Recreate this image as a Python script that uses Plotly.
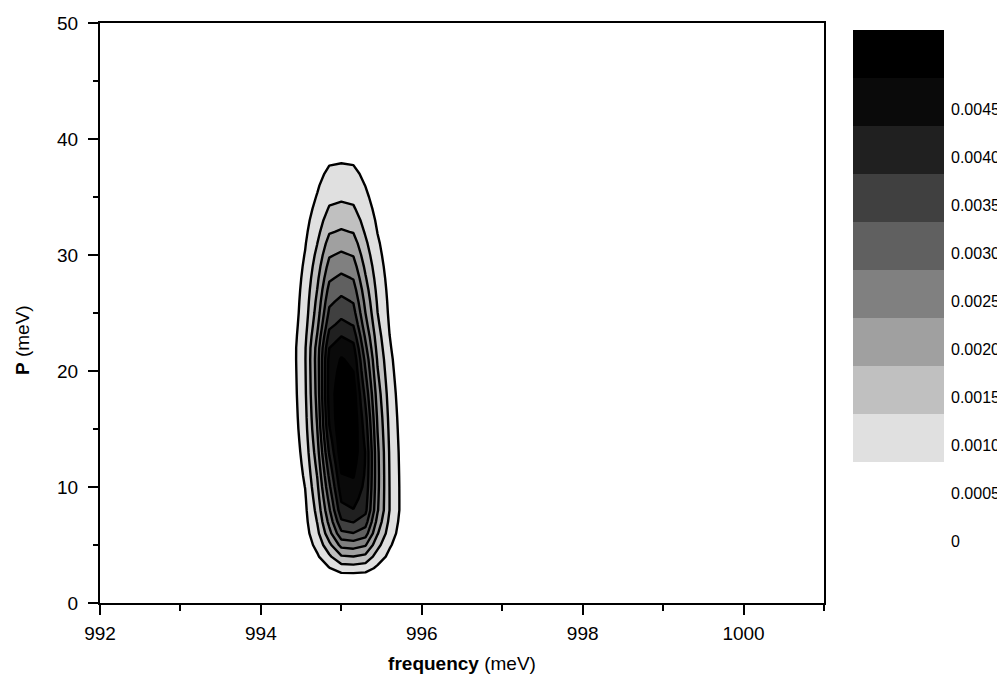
import numpy as np
import plotly.graph_objects as go

# ---- data ----
# ridge (maximum along each row) of the spectral weight vs P
ridge_p = [0.0, 1.8, 2.6, 3.3, 4.0, 4.7, 5.3, 6.0, 6.9, 8.0, 10.4, 13.0, 15.5, 18.0,
           21.5, 23.0, 24.4, 26.5, 28.4, 30.3, 32.2, 34.5, 37.9, 40.0, 43.0, 50.0]
ridge_val = [0.0, 0.0, 0.0005, 0.0010, 0.0015, 0.0020, 0.0025, 0.0030, 0.0035, 0.0040,
             0.0045, 0.00485, 0.0050, 0.0049, 0.0045, 0.0040, 0.0035, 0.0030, 0.0025,
             0.0020, 0.0015, 0.0010, 0.0005, 0.00022, 0.00005, 0.0]
# frequency of the ridge vs P
center_p = [0.0, 8.0, 15.0, 22.0, 30.0, 50.0]
center_f = [995.12, 995.12, 995.06, 995.01, 995.0, 995.0]
# width factor vs P
width_p = [0.0, 20.0, 25.0, 30.0, 35.0, 40.0, 50.0]
width_k = [1.0, 1.0, 1.0, 1.02, 1.06, 1.08, 1.08]
# cross-section (relative to ridge) vs frequency offset (meV)
prof_off = [-1.0, -0.8, -0.68, -0.56, -0.46, -0.40, -0.34, -0.29, -0.24, -0.20, -0.17,
            -0.13, -0.08, 0.0, 0.08, 0.14, 0.18, 0.22, 0.26, 0.31, 0.37, 0.43, 0.50,
            0.61, 0.73, 0.86, 1.08]
prof_ratio = [0.0, 0.01, 0.04, 0.107, 0.22, 0.32, 0.44, 0.55, 0.69, 0.83, 0.91, 0.955,
              0.985, 1.0, 0.985, 0.955, 0.91, 0.83, 0.69, 0.55, 0.44, 0.32, 0.22, 0.107,
              0.04, 0.01, 0.0]

levels = [0.0005, 0.0010, 0.0015, 0.0020, 0.0025, 0.0030, 0.0035, 0.0040, 0.0045]
band_colors = ["#e0e0e0", "#c0c0c0", "#a0a0a0", "#808080", "#606060", "#404040",
               "#202020", "#0a0a0a", "#000000"]
cbar_vals = [0, 0.0005, 0.0010, 0.0015, 0.0020, 0.0025, 0.0030, 0.0035, 0.0040, 0.0045]
cbar_text = ["0", "0.0005", "0.0010", "0.0015", "0.0020", "0.0025", "0.0030",
             "0.0035", "0.0040", "0.0045"]

x_ticks = [992, 994, 996, 998, 1000]
y_ticks = [0, 10, 20, 30, 40, 50]

# ---- sample the field (coarse grid, like the original calculation) ----
fx = np.linspace(993.5, 996.5, 21)
py = np.linspace(0, 50, 51)
ridge = np.interp(py, ridge_p, ridge_val)
cen = np.interp(py, center_p, center_f)
wk = np.interp(py, width_p, width_k)
Z = np.empty((len(py), len(fx)))
for i in range(len(py)):
    Z[i] = ridge[i] * np.interp((fx - cen[i]) / wk[i], prof_off, prof_ratio, left=0, right=0)

font = "Liberation Sans, Arial, Helvetica, sans-serif"

# colorscale for contour fill (background + bands above each level)
fill_cols = ["#ffffff"] + band_colors
cs = [[k / (len(fill_cols) - 1), c] for k, c in enumerate(fill_cols)]

fig = go.Figure()
fig.add_trace(go.Contour(
    x=fx, y=py, z=Z,
    autocontour=False,
    contours=dict(start=levels[0], end=levels[-1], size=levels[1] - levels[0],
                  coloring="fill"),
    colorscale=cs, showscale=False,
    line=dict(color="black", width=2.4, smoothing=0),
    hoverinfo="skip",
))

# manual colour bar
fig.add_trace(go.Bar(
    x=[0] * len(levels), y=[levels[1] - levels[0]] * len(levels), base=levels,
    marker=dict(color=band_colors, line=dict(width=0)), width=1,
    xaxis="x2", yaxis="y2", showlegend=False, hoverinfo="skip",
))
for v, t in zip(cbar_vals, cbar_text):
    fig.add_annotation(x=1, xref="x2 domain", y=v, yref="y2", text=t,
                       showarrow=False, xanchor="left", yanchor="middle",
                       xshift=5, yshift=-31, font=dict(family=font, size=16, color="black"))

# y-axis title (sits a little below the axis middle in the reference)
fig.add_annotation(x=-0.0862, xref="paper", y=0.4534, yref="paper",
                   text="<b>P</b> (meV)", textangle=-90, showarrow=False,
                   xanchor="center", yanchor="middle",
                   font=dict(family=font, size=19, color="black"))

axis_common = dict(showgrid=False, zeroline=False, showline=True, linecolor="black",
                   linewidth=2, mirror=True, ticks="outside", tickcolor="black",
                   tickwidth=2, ticklen=10, automargin=False,
                   tickfont=dict(family=font, size=19, color="black"))

fig.update_layout(
    width=997, height=667,
    margin=dict(l=92, r=0, t=15, b=72),
    paper_bgcolor="white", plot_bgcolor="white",
    showlegend=False,
    xaxis=dict(domain=[0, 0.8], range=[992, 1001], tickvals=x_ticks,
               minor=dict(dtick=1, tick0=992, ticks="outside", ticklen=6,
                          tickwidth=2, tickcolor="black"),
               ticklabelstandoff=2,
               title=dict(text="<b>frequency</b> (meV)", standoff=14,
                          font=dict(family=font, size=19, color="black")),
               **axis_common),
    yaxis=dict(domain=[0, 1], range=[0, 50], tickvals=y_ticks,
               minor=dict(dtick=5, tick0=0, ticks="outside", ticklen=5,
                          tickwidth=2, tickcolor="black"),
               ticklabelstandoff=6,
               **axis_common),
    xaxis2=dict(domain=[0.8315, 0.9326], range=[-0.5, 0.5], visible=False,
                anchor="y2", fixedrange=True),
    yaxis2=dict(domain=[0.1603, 0.9879], range=[0, 0.005], visible=False,
                anchor="x2", fixedrange=True),
    bargap=0,
)

fig.write_html("out.html")
